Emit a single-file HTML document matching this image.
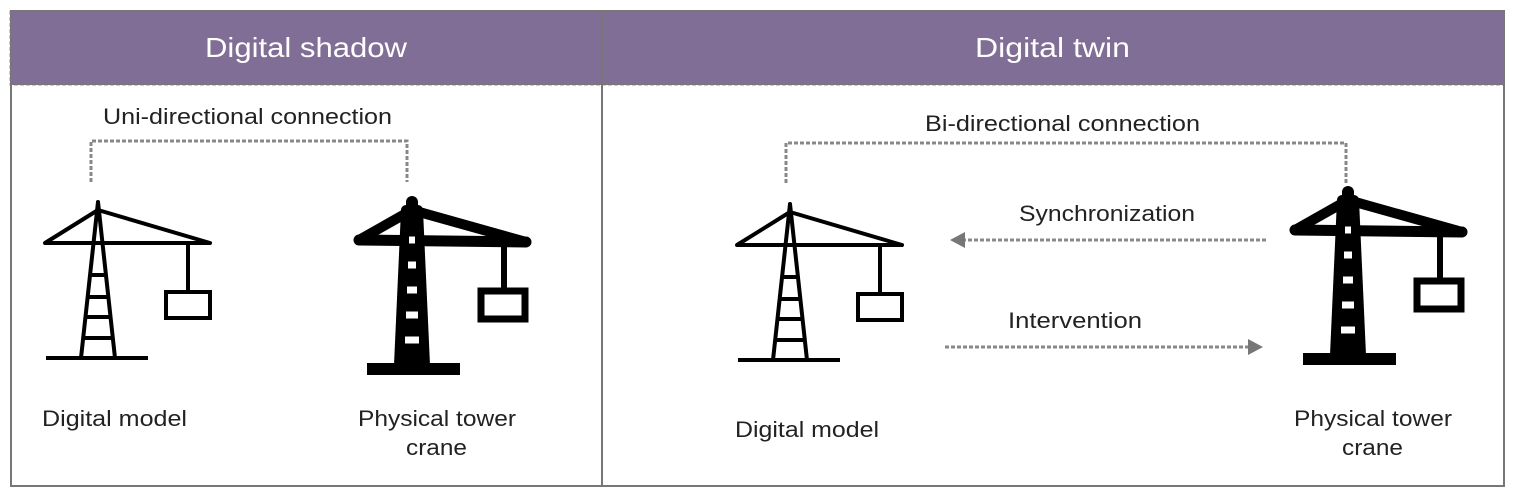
<!DOCTYPE html>
<html><head><style>body{margin:0;background:#fff}svg text{font-family:"Liberation Sans",sans-serif}</style></head><body>
<svg width="1515" height="499" viewBox="0 0 1515 499" xmlns="http://www.w3.org/2000/svg">
<defs>
<g id="thin" fill="none" stroke="#000" stroke-width="4" stroke-linejoin="round" stroke-linecap="round">
<path d="M-53,43 L0,10 L112,43 Z"/>
<path d="M0,2 L-17,158 M0,2 L17,158"/>
<path d="M-52,158 L50,158" stroke-linecap="butt"/>
<path d="M-8,75 H8 M-11,97 H11 M-13,117 H13 M-15,138 H15" stroke-linecap="butt"/>
<path d="M90,43 V92"/>
<rect x="68" y="92" width="44" height="26" stroke-linejoin="miter"/>
</g>
<g id="thick" fill="none" stroke="#000" stroke-linejoin="round" stroke-linecap="round">
<path d="M-53,40 L0,10 L114,42" stroke-width="10"/>
<path d="M-53,40 L114,42" stroke-width="11"/>
<path d="M0,2 L0,10" stroke-width="12"/>
<path d="M-13,165 L-6,10 L6,10 L13,165 Z" fill="#000" stroke-width="10"/>
<rect x="-45" y="163" width="93" height="12" fill="#000" stroke="none"/>
<path d="M-3,40 H3 M-4,65 H4 M-5,90 H5 M-6,115 H6 M-7,140 H7" stroke="#fff" stroke-width="7" stroke-linecap="butt"/>
<path d="M92,42 V90" stroke-width="6"/>
<rect x="69" y="91" width="44" height="28" stroke-width="7" stroke-linejoin="miter"/>
</g>
</defs>
<rect x="10" y="11" width="1494" height="74" fill="#806e96" stroke="#999" stroke-dasharray="4 2"/>
<rect x="11" y="11" width="1493" height="475" fill="none" stroke="#777" stroke-width="2"/>
<line x1="602" y1="11" x2="602" y2="486" stroke="#777" stroke-width="2"/>
<line x1="11" y1="84" x2="1504" y2="84" stroke="#777" stroke-width="2"/>
<text x="205" y="57" font-size="28" fill="#fff" textLength="202" lengthAdjust="spacingAndGlyphs">Digital shadow</text>
<text x="975" y="57" font-size="28" fill="#fff" textLength="155" lengthAdjust="spacingAndGlyphs">Digital twin</text>
<g font-size="22" fill="#222">
<text x="103" y="124" textLength="289" lengthAdjust="spacingAndGlyphs">Uni-directional connection</text>
<text x="42" y="426" textLength="145" lengthAdjust="spacingAndGlyphs">Digital model</text>
<text x="358" y="426" textLength="158" lengthAdjust="spacingAndGlyphs">Physical tower</text>
<text x="406" y="455" textLength="61" lengthAdjust="spacingAndGlyphs">crane</text>
<text x="925" y="131" textLength="275" lengthAdjust="spacingAndGlyphs">Bi-directional connection</text>
<text x="1019" y="221" textLength="176" lengthAdjust="spacingAndGlyphs">Synchronization</text>
<text x="1008" y="328" textLength="134" lengthAdjust="spacingAndGlyphs">Intervention</text>
<text x="735" y="437" textLength="144" lengthAdjust="spacingAndGlyphs">Digital model</text>
<text x="1294" y="426" textLength="158" lengthAdjust="spacingAndGlyphs">Physical tower</text>
<text x="1342" y="455" textLength="61" lengthAdjust="spacingAndGlyphs">crane</text>
</g>
<g fill="none" stroke="#888" stroke-width="3" stroke-dasharray="4 2">
<path d="M91,182 V141 H407 V182"/>
<path d="M786,183 V143 H1346 V185"/>
<path d="M1266,240 H964"/>
<path d="M945,347 H1248"/>
</g>
<path d="M950,240 L965,232 L965,248 Z" fill="#777"/>
<path d="M1263,347 L1248,339 L1248,355 Z" fill="#777"/>
<use href="#thin" x="98" y="200"/>
<use href="#thick" x="412" y="200"/>
<use href="#thin" x="790" y="202"/>
<use href="#thick" x="1348" y="190"/>
</svg>
</body></html>
